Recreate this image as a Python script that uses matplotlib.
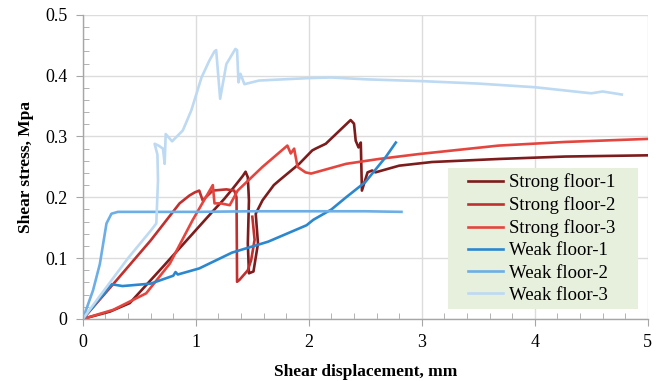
import matplotlib
matplotlib.use("Agg")
import matplotlib.pyplot as plt
from matplotlib.ticker import MultipleLocator
from matplotlib.patches import Rectangle

plt.rcParams['font.family'] = ['Liberation Serif', 'DejaVu Serif']

# values
sf1_x = [0, 0.24, 0.415, 0.71, 1.0, 1.15, 1.25, 1.33, 1.415, 1.44, 1.46, 1.47, 1.46, 1.47, 1.51,
         1.55, 1.53, 1.59, 1.69, 1.74, 1.915, 2.03, 2.06, 2.15, 2.37, 2.4, 2.415, 2.44, 2.46,
         2.47, 2.52, 2.56, 2.59, 2.8, 3.09, 3.68, 4.27, 5.0]
sf1_y = [0, 0.012, 0.026, 0.086, 0.146, 0.177, 0.197, 0.215, 0.235, 0.242, 0.233, 0.195, 0.124,
         0.075, 0.078, 0.124, 0.173, 0.195, 0.22, 0.228, 0.255, 0.277, 0.28, 0.288, 0.327, 0.321,
         0.293, 0.282, 0.29, 0.211, 0.241, 0.244, 0.241, 0.252, 0.258, 0.263, 0.267, 0.269]

sf2_x = [0, 0.3, 0.6, 0.856, 0.944, 0.99, 1.03, 1.06, 1.15, 1.27, 1.34, 1.36, 1.365, 1.385,
         1.46, 1.49, 1.52, 1.5]
sf2_y = [0, 0.064, 0.129, 0.19, 0.203, 0.208, 0.211, 0.195, 0.211, 0.213, 0.211, 0.2, 0.061,
         0.064, 0.08, 0.097, 0.13, 0.168]

sf3_x = [0, 0.27, 0.56, 0.77, 0.97, 1.15, 1.165, 1.22, 1.3, 1.37, 1.59, 1.81, 1.84, 1.87, 1.9,
         1.97, 2.02, 2.33, 2.62, 2.97, 3.68, 4.27, 5.0]
sf3_y = [0, 0.015, 0.042, 0.091, 0.162, 0.22, 0.19, 0.19, 0.187, 0.211, 0.25, 0.285, 0.272,
         0.28, 0.25, 0.241, 0.239, 0.255, 0.263, 0.271, 0.285, 0.291, 0.296]

wf1_x = [0, 0.256, 0.35, 0.6, 0.8, 0.82, 0.84, 1.03, 1.32, 1.64, 1.98, 2.04, 2.2, 2.33, 2.5,
         2.68, 2.77]
wf1_y = [0, 0.057, 0.054, 0.058, 0.071, 0.077, 0.073, 0.083, 0.109, 0.127, 0.154, 0.163, 0.18,
         0.2, 0.225, 0.266, 0.29]

wf2_x = [0, 0.09, 0.15, 0.209, 0.253, 0.31, 0.5, 1.0, 1.5, 2.0, 2.5, 2.82]
wf2_y = [0, 0.047, 0.09, 0.157, 0.173, 0.176, 0.176, 0.176, 0.177, 0.177, 0.177, 0.176]

wf3_x = [0, 0.2, 0.4, 0.6, 0.65, 0.665, 0.66, 0.635, 0.67, 0.709, 0.724, 0.733, 0.79, 0.885,
         0.96, 1.05, 1.12, 1.165, 1.18, 1.215, 1.27, 1.35, 1.365, 1.377, 1.395, 1.43, 1.56, 2.0,
         2.2, 2.5, 3.0, 3.5, 4.0, 4.3, 4.5, 4.6, 4.77]
wf3_y = [0, 0.05, 0.1, 0.145, 0.157, 0.228, 0.27, 0.288, 0.285, 0.28, 0.255, 0.304, 0.292, 0.31,
         0.343, 0.397, 0.425, 0.44, 0.442, 0.362, 0.419, 0.444, 0.442, 0.389, 0.403, 0.386,
         0.392, 0.396, 0.397, 0.394, 0.391, 0.387, 0.381, 0.375, 0.371, 0.374, 0.369]

series = [
    ("Strong floor-1", sf1_x, sf1_y, "#7d1c1c"),
    ("Strong floor-2", sf2_x, sf2_y, "#c0302e"),
    ("Strong floor-3", sf3_x, sf3_y, "#e4463f"),
    ("Weak floor-1", wf1_x, wf1_y, "#2b88cf"),
    ("Weak floor-2", wf2_x, wf2_y, "#6caee5"),
    ("Weak floor-3", wf3_x, wf3_y, "#bddaf2"),
]

fig = plt.figure(figsize=(6.63, 3.81), dpi=100)
ax = fig.add_axes([0.125, 0.163, 0.852, 0.798])

for name, xs, ys, c in series:
    ax.plot(xs, ys, color=c, lw=1.9, label=name, solid_joinstyle='round')

ax.set_xlim(0, 5)
ax.set_ylim(0, 0.5)
ax.xaxis.set_major_locator(MultipleLocator(1))
ax.xaxis.set_minor_locator(MultipleLocator(0.2))
ax.yaxis.set_major_locator(MultipleLocator(0.1))
ax.yaxis.set_minor_locator(MultipleLocator(0.02))
ax.set_yticks([0, 0.1, 0.2, 0.3, 0.4, 0.5], ["0", "0.1", "0.2", "0.3", "0.4", "0.5"])

ax.grid(True, which='major', color='#dcdcdc', lw=1.0)
ax.set_axisbelow(True)
for s in ['top', 'right']:
    ax.spines[s].set_visible(False)
for s in ['left', 'bottom']:
    ax.spines[s].set_color('#a6a6a6')
    ax.spines[s].set_linewidth(1.0)

ax.tick_params(which='major', direction='out', length=5, color='#a6a6a6', labelsize=13,
               pad=6)
ax.tick_params(which='minor', direction='in', length=4, color='#a6a6a6')

ax.set_xlabel("Shear displacement, mm", fontsize=12.5, fontweight='bold', labelpad=9)
ax.set_ylabel("Shear stress, Mpa", fontsize=12.5, fontweight='bold', labelpad=8)

# legend box is wider than the entries, so draw the panel separately
ax.add_patch(Rectangle((0.646, 0.033), 0.336, 0.464, transform=ax.transAxes,
                       facecolor='#e7efdd', edgecolor='none', zorder=4))
leg = ax.legend(loc='center', bbox_to_anchor=(0.8115, 0.264), fontsize=13.5,
                frameon=False, handlelength=1.87, handletextpad=0.32, labelspacing=0.27,
                borderpad=0)
leg.set_zorder(5)

fig.savefig("out.png", dpi=100)
